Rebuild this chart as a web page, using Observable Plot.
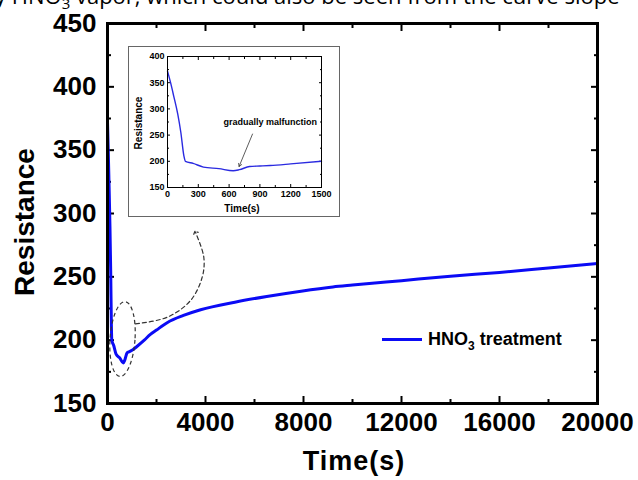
<!DOCTYPE html>
<html><head><meta charset="utf-8">
<script src="https://cdn.jsdelivr.net/npm/d3@7"></script>
<script src="https://cdn.jsdelivr.net/npm/@observablehq/plot@0.6"></script>
<style>
body{margin:0;background:#fff;}
#wrap{position:relative;width:638px;height:480px;overflow:hidden;font-family:"Liberation Sans",Arial,sans-serif;color:#000;}
#toptext{position:absolute;left:-5px;top:-16px;font-family:"Open Sans",sans-serif;font-size:22px;line-height:22px;white-space:nowrap;}
#toptext sub{font-size:15px;line-height:0;}
#main{position:absolute;left:0;top:0;}
#inset{position:absolute;left:128px;top:46px;border:1px solid #666;background:#fff;width:210px;height:169px;}
.lab{position:absolute;white-space:nowrap;font-weight:bold;transform:translate(-50%,-50%);}
#ylab{left:25px;top:222px;font-size:28px;transform:translate(-50%,-50%) rotate(-90deg);}
#xlab{left:354px;top:461px;font-size:27px;letter-spacing:1px;}
#iylab{left:138px;top:123px;font-size:10px;transform:translate(-50%,-50%) rotate(-90deg);}
#ixlab{left:242px;top:208px;font-size:10px;}
#legend{position:absolute;left:382px;top:329px;display:flex;align-items:center;font-weight:bold;font-size:18px;white-space:nowrap;}
#legend .sw{width:40px;height:3px;background:#0b0bf5;margin-right:6px;}
#legend sub{font-size:12px;line-height:0;}
</style></head><body>
<div id="wrap">
  <div id="toptext">y HNO<sub>3</sub> vapor, which could also be seen from the curve slope</div>
  <div id="main"></div>
  <div id="inset"></div>
  <div class="lab" id="ylab">Resistance</div>
  <div class="lab" id="xlab">Time(s)</div>
  <div class="lab" id="iylab">Resistance</div>
  <div class="lab" id="ixlab">Time(s)</div>
  <div id="legend"><div class="sw"></div><span>HNO<sub>3</sub> treatment</span></div>
</div>
<script>
// ---- data ----
const time = [0, 30, 60, 100, 130, 160, 175, 250, 350, 500, 640, 700, 800, 900, 1000, 1200, 1500,
  1750, 2000, 2450, 3100, 3800, 5200, 6500, 7900, 9200, 10000, 12000, 14000, 16000, 18000, 20000];
const resistance = [372, 350, 325, 290, 255, 210, 200, 196, 189, 186, 182, 184, 190, 191, 192, 195, 200,
  204.5, 208, 214, 219.5, 224, 230, 234.5, 238.7, 242, 243.5, 247, 250.5, 253.5, 257, 260.5];

const yMajor = [150, 200, 250, 300, 350, 400, 450];
const yMinor = [175, 225, 275, 325, 375, 425];
const xMajor = [0, 4000, 8000, 12000, 16000, 20000];
const xMinor = [2000, 6000, 10000, 14000, 18000];

const insetXMajor = [0, 300, 600, 900, 1200, 1500];
const insetXMinor = [150, 450, 750, 1050, 1350];
const insetYMajor = [150, 200, 250, 300, 350, 400];
const insetYMinor = [175, 225, 275, 325, 375];

// annotations (data units)
const zoomEllipse = {t: 633, r: 200.5, halfT: 510, halfR: 29.6};
const arrowPathT = [1143, 2437, 3388, 3865, 3931, 3592];
const arrowPathR = [212.9, 218.1, 231.3, 249.7, 265.5, 285.2];
const noteText = "gradually malfunction";
const noteAt = {t: 1000, r: 274};
const noteArrow = {t1: 828, r1: 252, t2: 697, r2: 190};

const data = time.map((t, i) => ({t, r: resistance[i]}));
const insetData = data.filter(d => d.t <= 1500);
const arrowData = arrowPathT.map((t, i) => ({t, r: arrowPathR[i]}));

const blank = () => "";
const plain = d => String(d);
const font = "Liberation Sans, Arial, sans-serif";

const main = Plot.plot({
  width: 638, height: 480,
  marginLeft: 107, marginRight: 41, marginTop: 23, marginBottom: 77,
  x: {domain: [0, 20000]},
  y: {domain: [150, 450]},
  style: {fontFamily: font, fontWeight: "bold", color: "#000", background: "transparent", overflow: "visible"},
  marks: [
    Plot.axisY(yMajor, {anchor: "left", tickSize: -7, tickPadding: 18, fontSize: 26, strokeWidth: 2, tickFormat: plain, label: null}),
    Plot.axisY(yMinor, {anchor: "left", tickSize: -4, tickFormat: blank, strokeWidth: 2, label: null}),
    Plot.axisY(yMajor, {anchor: "right", tickSize: -7, tickFormat: blank, strokeWidth: 2, label: null}),
    Plot.axisY(yMinor, {anchor: "right", tickSize: -4, tickFormat: blank, strokeWidth: 2, label: null}),
    Plot.axisX(xMajor, {anchor: "bottom", tickSize: -7, tickPadding: 16, fontSize: 26, strokeWidth: 2, tickFormat: plain, label: null}),
    Plot.axisX(xMinor, {anchor: "bottom", tickSize: -4, tickFormat: blank, strokeWidth: 2, label: null}),
    Plot.axisX(xMajor, {anchor: "top", tickSize: -7, tickFormat: blank, strokeWidth: 2, label: null}),
    Plot.axisX(xMinor, {anchor: "top", tickSize: -4, tickFormat: blank, strokeWidth: 2, label: null}),
    Plot.line(arrowData, {x: "t", y: "r", curve: "catmull-rom", stroke: "#333", strokeWidth: 1.2,
      strokeDasharray: "4,3", markerEnd: "arrow"}),
    Plot.line(data, {x: "t", y: "r", stroke: "#0b0bf5", strokeWidth: 3, curve: "monotone-x"}),
    Plot.frame({stroke: "#000", strokeWidth: 3})
  ]
});
document.getElementById("main").appendChild(main);

// dashed ellipse around the dip, positioned through the plot's scales
{
  const sx = main.scale("x"), sy = main.scale("y");
  const cx = sx.apply(zoomEllipse.t), cy = sy.apply(zoomEllipse.r);
  const rx = sx.apply(zoomEllipse.t + zoomEllipse.halfT) - cx;
  const ry = cy - sy.apply(zoomEllipse.r + zoomEllipse.halfR);
  d3.select(main).append("ellipse")
    .attr("cx", cx).attr("cy", cy).attr("rx", rx).attr("ry", ry)
    .attr("transform", `rotate(4 ${cx} ${cy})`)
    .attr("fill", "none").attr("stroke", "#333").attr("stroke-width", 1.2).attr("stroke-dasharray", "4,3");
}

const inset = Plot.plot({
  width: 210, height: 169,
  marginLeft: 38, marginRight: 18, marginTop: 9, marginBottom: 29,
  x: {domain: [0, 1500]},
  y: {domain: [150, 400]},
  style: {fontFamily: font, fontWeight: "bold", color: "#000", background: "#fff"},
  marks: [
    Plot.axisY(insetYMajor, {anchor: "left", tickSize: -3, tickPadding: 6, fontSize: 9, tickFormat: plain, label: null}),
    Plot.axisY(insetYMinor, {anchor: "left", tickSize: -2, tickFormat: blank, label: null}),
    Plot.axisY(insetYMajor, {anchor: "right", tickSize: -3, tickFormat: blank, label: null}),
    Plot.axisY(insetYMinor, {anchor: "right", tickSize: -2, tickFormat: blank, label: null}),
    Plot.axisX(insetXMajor, {anchor: "bottom", tickSize: -3, tickPadding: 6, fontSize: 9, tickFormat: plain, label: null}),
    Plot.axisX(insetXMinor, {anchor: "bottom", tickSize: -2, tickFormat: blank, label: null}),
    Plot.axisX(insetXMajor, {anchor: "top", tickSize: -3, tickFormat: blank, label: null}),
    Plot.axisX(insetXMinor, {anchor: "top", tickSize: -2, tickFormat: blank, label: null}),
    Plot.line(insetData, {x: "t", y: "r", stroke: "#2a2ae0", strokeWidth: 1.4, curve: "monotone-x"}),
    Plot.arrow([noteArrow], {x1: "t1", y1: "r1", x2: "t2", y2: "r2", stroke: "#333", strokeWidth: 0.8, headLength: 6}),
    Plot.text([noteAt], {x: "t", y: "r", text: () => noteText, fontSize: 9, fontWeight: "bold"}),
    Plot.frame({stroke: "#000", strokeWidth: 1})
  ]
});
document.getElementById("inset").appendChild(inset);
</script>
</body></html>
